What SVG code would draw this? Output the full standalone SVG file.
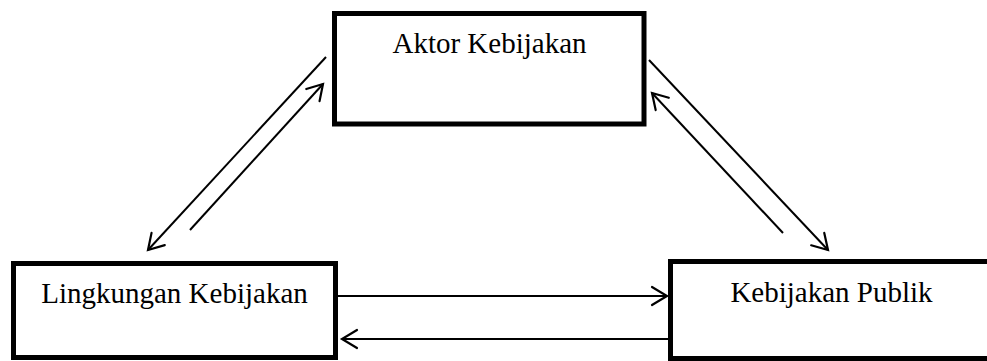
<svg xmlns="http://www.w3.org/2000/svg" width="987" height="361" viewBox="0 0 987 361">
  <style>
    .box { fill: #ffffff; stroke: #000000; stroke-width: 5; }
    .label { font-family: "Liberation Serif", "Times New Roman", serif; font-size: 29px; fill: #000000; text-anchor: middle; }
    .link { stroke: #000000; stroke-width: 2; fill: none; marker-end: url(#head); }
  </style>
  <defs>
    <marker id="head" markerUnits="userSpaceOnUse" markerWidth="30" markerHeight="30" viewBox="-20 -15 30 30" refX="0" refY="0" orient="auto" overflow="visible">
      <path d="M-15,-9 L0,0 L-15,9" fill="none" stroke="#000000" stroke-width="2.2" stroke-linecap="round" stroke-linejoin="miter"/>
    </marker>
  </defs>
  <rect width="987" height="361" fill="#ffffff"/>

  <g id="aktor-kebijakan">
    <rect class="box" x="334.5" y="13.5" width="309.5" height="110.5"/>
    <text class="label" x="489.5" y="53">Aktor Kebijakan</text>
  </g>

  <g id="lingkungan-kebijakan">
    <rect class="box" x="13.5" y="263.5" width="322" height="94"/>
    <text class="label" x="174.5" y="303">Lingkungan Kebijakan</text>
  </g>

  <g id="kebijakan-publik">
    <rect class="box" x="670.5" y="261.5" width="340" height="97"/>
    <text class="label" x="831.5" y="302">Kebijakan Publik</text>
  </g>

  <g id="connectors">
    <line class="link" x1="326" y1="57" x2="148" y2="250"/>
    <line class="link" x1="190" y1="230" x2="323" y2="84"/>
    <line class="link" x1="649" y1="60" x2="828" y2="250"/>
    <line class="link" x1="783" y1="233" x2="652" y2="93"/>
    <line class="link" x1="338" y1="296" x2="667" y2="296"/>
    <line class="link" x1="668" y1="339" x2="342" y2="339"/>
  </g>
</svg>
